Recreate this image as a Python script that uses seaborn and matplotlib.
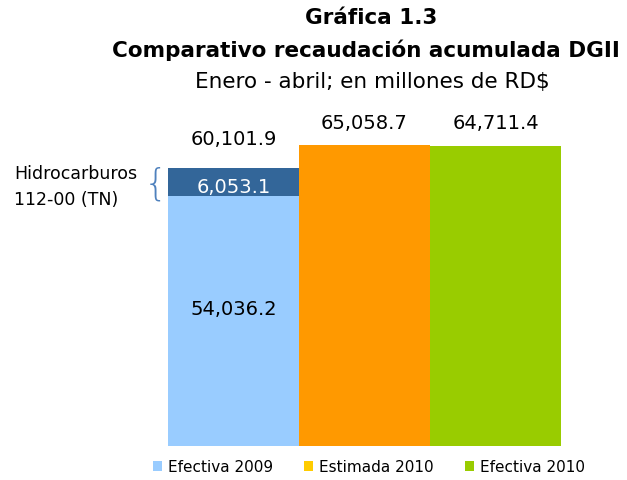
import matplotlib
matplotlib.use('Agg')
import matplotlib.pyplot as plt
from matplotlib.patches import Patch
import pandas as pd
import seaborn as sns

categories = ["Efectiva 2009", "Estimada 2010", "Efectiva 2010"]
totals = [60101.9, 65058.7, 64711.4]
base_2009 = 54036.2
hidrocarburos_2009 = 6053.1

bar_colors = ["#336699", "#FF9900", "#99CC00"]
base_color = "#99CCFF"
legend_colors = ["#99CCFF", "#FFCC00", "#99CC00"]

sns.set_style("white")
plt.rcParams['font.family'] = ['DejaVu Sans']
plt.rcParams['text.color'] = 'black'

df = pd.DataFrame({"categoria": categories, "total": totals})
df_base = pd.DataFrame({"categoria": [categories[0]], "valor": [base_2009]})

fig = plt.figure(figsize=(6.27, 4.81), dpi=100)
ax = fig.add_axes([168 / 627, 34 / 481, (561 - 168) / 627, (447 - 123) / 481])

sns.barplot(data=df, x="categoria", y="total", hue="categoria", order=categories,
            palette=bar_colors, width=1.0, legend=False, ax=ax, saturation=1,
            linewidth=0, zorder=1)
sns.barplot(data=df_base, x="categoria", y="valor", order=categories,
            color=base_color, width=1.0, ax=ax, saturation=1, linewidth=0, zorder=2)

ax.set_ylim(0, 70000)
ax.set_xlim(-0.5, 2.5)
ax.set_xlabel("")
ax.set_ylabel("")
ax.set_xticks([])
ax.set_yticks([])
sns.despine(ax=ax, left=True, bottom=True)

# totals above bars
offsets = [21, 16, 17]
for i, v in enumerate(totals):
    ax.annotate(f"{v:,.1f}", (i, v), xytext=(0, offsets[i]), textcoords="offset points",
                ha="center", va="center", fontsize=14, color="black")

# stacked segments of 2009
ax.text(0, base_2009 + 2000, f"{hidrocarburos_2009:,.1f}", ha="center", va="center",
        fontsize=14, color="white", zorder=1.5)
ax.text(0, base_2009 * 0.55, f"{base_2009:,.1f}", ha="center", va="center",
        fontsize=14, color="black", zorder=3)

# side note with brace
fig.text(14 / 627, 1 - 187 / 481, "Hidrocarburos\n112-00 (TN)", ha="left", va="center",
         fontsize=12.5, linespacing=1.55)
fig.text(156 / 627, 1 - 184 / 481, "{", ha="center", va="center", fontsize=27,
         color="#4F81BD", fontweight="light")

# titles
fig.text(0.592, 1 - 18 / 481, "Gráfica 1.3", ha="center", va="center",
         fontsize=15.5, fontweight="bold")
fig.text(0.584, 1 - 50 / 481, "Comparativo recaudación acumulada DGII", ha="center", va="center",
         fontsize=15.5, fontweight="bold")
fig.text(0.594, 1 - 82 / 481, "Enero - abril; en millones de RD$", ha="center", va="center",
         fontsize=15.5)

handles = [Patch(facecolor=c, edgecolor="none") for c in legend_colors]
fig.legend(handles, categories, loc="center", bbox_to_anchor=(369 / 627, 1 - 468 / 481),
           ncol=3, frameon=False, fontsize=11, handlelength=0.6, handleheight=0.6,
           handletextpad=0.4, columnspacing=2.0)

fig.savefig("out.png", dpi=100)
